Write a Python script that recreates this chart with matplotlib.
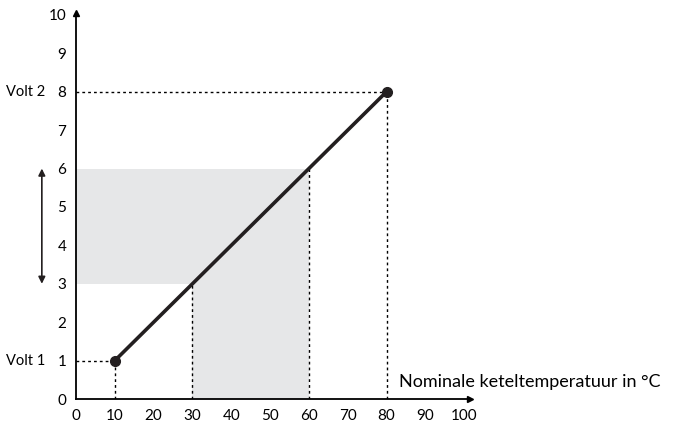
import matplotlib.pyplot as plt
import numpy as np

# data
temp = [10, 80]
volt = [1, 8]
band_low, band_high = 3, 6
temp_low, temp_high = 30, 60
xticks = list(range(0, 101, 10))
yticks = list(range(0, 11))
volt_labels = ['Volt 1', 'Volt 2']

plt.rcParams['font.family'] = ['Lato', 'DejaVu Sans']

fig = plt.figure(figsize=(6.73, 4.23), dpi=100)
ax = fig.add_axes([76 / 673, 24 / 423, 394 / 673, 386 / 423])
ax.set_xlim(0, 101.5)
ax.set_ylim(0, 10.05)

# shaded area
grey = '#e6e7e8'
ax.fill_between([0, temp_high], band_low, band_high, color=grey, lw=0, zorder=0)
ax.fill_between([temp_low, temp_high], 0, band_low, color=grey, lw=0, zorder=0)

dot = dict(color='black', lw=1, ls=(0, (2, 2.2)), zorder=1)
ax.plot([temp_high, temp_high], [0, band_high], **dot)
ax.plot([temp_low, temp_low], [0, band_low], **dot)
for t, v in zip(temp, volt):
    ax.plot([t, t], [0, v], **dot)
    ax.plot([0, t], [v, v], **dot)

# line
ax.plot(temp, volt, color='#231f20', lw=2.6, solid_capstyle='round', zorder=3)
ax.plot(temp, volt, 'o', color='#231f20', ms=7, zorder=4)

# axes
for s in ['top', 'right']:
    ax.spines[s].set_visible(False)
for s in ['left', 'bottom']:
    ax.spines[s].set_linewidth(1.3)
ax.plot(1, 0, '>k', ms=5, transform=ax.get_yaxis_transform(), clip_on=False)
ax.plot(0, 1, '^k', ms=5, transform=ax.get_xaxis_transform(), clip_on=False)

ax.set_xticks(xticks)
ax.set_yticks(yticks)
ax.tick_params(length=0, labelsize=11)
ax.tick_params(axis='x', pad=7)
ax.tick_params(axis='y', pad=7)

for lbl, v in zip(volt_labels, volt):
    ax.text(-8.0, v, lbl, ha='right', va='center', fontsize=10.5)

ax.annotate('', xy=(-8.8, band_high), xytext=(-8.8, band_low),
            arrowprops=dict(arrowstyle='<|-|>', color='#231f20', lw=1.2,
                            mutation_scale=10, shrinkA=0, shrinkB=0),
            annotation_clip=False)

ax.text(83.3, 0.45, 'Nominale keteltemperatuur in °C', ha='left', va='center',
        fontsize=13)

fig.savefig('out.png', dpi=100)
